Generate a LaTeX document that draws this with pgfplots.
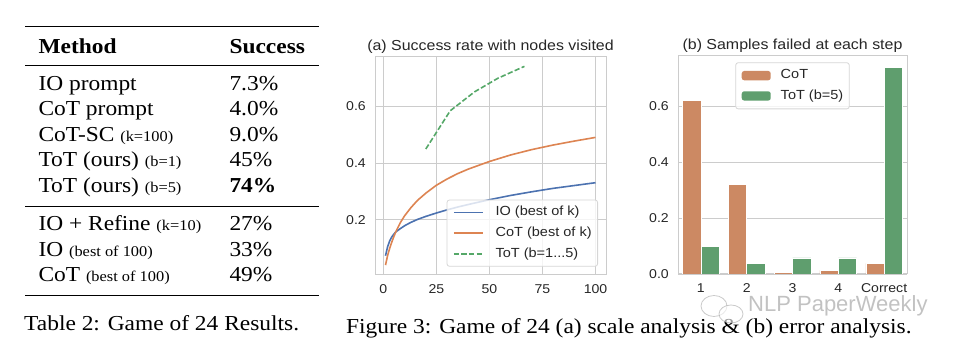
\documentclass[border=0pt]{standalone}
\usepackage{fontspec}
\setmainfont{Liberation Serif}[FakeStretch=1.1]
\newfontfamily\dv{Liberation Sans}[FakeStretch=1.1]
\newfontfamily\wm{Liberation Sans}
\usepackage{pgfplots}
\pgfplotsset{compat=1.18}
\definecolor{gridc}{HTML}{CCCCCC}
\definecolor{legc}{HTML}{D6D6D6}
\definecolor{tickc}{HTML}{262626}
\definecolor{iob}{HTML}{4C72B0}
\definecolor{cotl}{HTML}{DD8452}
\definecolor{totl}{HTML}{55A868}
\definecolor{cotb}{HTML}{CC8963}
\definecolor{totb}{HTML}{5F9E6E}
\newcommand\tf{\fontsize{21.3}{24}\selectfont}
\newcommand\ts{\fontsize{14.9}{17}\selectfont}
\pgfplotsset{
 sb/.style={
  scale only axis,
  axis line style={draw=gridc, line width=1pt},
  major grid style={draw=gridc, line width=0.8pt},
  major tick length=0pt,
  tick style={draw=none},
  tick label style={font=\dv\fontsize{12.8}{14}\selectfont, text=tickc, inner sep=0pt},
  xticklabel style={anchor=north, yshift=-9.8pt},
  yticklabel style={anchor=east, xshift=-9pt},
  /pgf/number format/assume math mode=true,
  every axis title/.style={at={(0.5,1)}, anchor=base, yshift=6.5pt, font=\dv\fontsize{14.5}{16}\selectfont, text=tickc, inner sep=0pt},
  legend cell align=left,
  legend style={font=\dv\fontsize{13.2}{15}\selectfont, text=tickc, draw=legc, line width=0.8pt, rounded corners=2.5pt, fill=white, fill opacity=0.8, draw opacity=1, text opacity=1, nodes={inner sep=0pt, text height=9.5pt, text depth=2.8pt}},
 },
 mypatch/.style={legend image code/.code={\path[##1, fill opacity=1] (0pt,-4.65pt) rectangle (29pt,4.65pt);}},
}
\begin{document}
\begin{tikzpicture}[x=1pt,y=1pt]
\path (0,0) rectangle (971,350);
% ---------------- Table ----------------
\draw[line width=1.6pt] (25,323.3) -- (319,323.3);
\draw[line width=1pt] (25,284.7) -- (319,284.7);
\draw[line width=1pt] (25,143.3) -- (319,143.3);
\draw[line width=1.6pt] (25,54.3) -- (319,54.3);
\begin{scope}[every node/.style={anchor=base west, inner sep=0pt, font=\tf}]
\node at (38.3,296.7) {\bfseries Method};
\node at (229.3,296.7) {\bfseries Success};
\node at (38.3,259.5) {IO prompt};       \node at (229.3,259.5) {7.3\%};
\node at (38.3,234)   {CoT prompt};      \node at (229.3,234)   {4.0\%};
\node at (38.3,208.5) {CoT-SC {\ts (k=100)}}; \node at (229.3,208.5) {9.0\%};
\node at (38.3,183)   {ToT (ours) {\ts (b=1)}}; \node at (229.3,183) {45\%};
\node at (38.3,157.5) {ToT (ours) {\ts (b=5)}}; \node at (229.3,157.5) {\bfseries 74\%};
\node at (38.3,119)   {IO + Refine {\ts (k=10)}}; \node at (229.3,119) {27\%};
\node at (38.3,93.5)  {IO {\ts (best of 100)}}; \node at (229.3,93.5) {33\%};
\node at (38.3,68)    {CoT {\ts (best of 100)}}; \node at (229.3,68) {49\%};
\node at (24,19.3) {Table 2: Game of 24 Results.};
\node at (346,16.7) {Figure 3: Game of 24 (a) scale analysis \& (b) error analysis.};
\end{scope}
% ---------------- (a) ----------------
\begin{axis}[sb, at={(375pt,75pt)}, anchor=south west, width=231pt, height=218pt,
 xmin=-3.95, xmax=104.95, ymin=0.005, ymax=0.775,
 xtick={0,25,50,75,100}, ytick={0.2,0.4,0.6}, grid=major,
 yticklabel style={/pgf/number format/.cd, fixed, fixed zerofill, precision=1},
 title={(a) Success rate with nodes visited},
 legend style={at={(1,0)}, anchor=south east, xshift=-8pt, yshift=8.3pt, inner xsep=6pt, inner ysep=6.2pt, row sep=8.5pt, column sep=12pt},
 legend image code/.code={\draw[#1] (0pt,0pt) -- (29pt,0pt);},
]
\addplot[iob, line width=1.6pt] coordinates {(1,0.073) (2,0.105) (3,0.126) (4,0.14) (5,0.15) (6,0.158) (8,0.169) (10,0.179) (13,0.191) (16,0.201) (20,0.212) (25,0.224) (30,0.235) (35,0.245) (40,0.254) (50,0.271) (60,0.286) (70,0.299) (80,0.311) (90,0.321) (100,0.331)};
\addlegendentry{IO (best of k)}
\addplot[cotl, line width=1.6pt] coordinates {(1,0.04) (2,0.074) (3,0.1) (4,0.122) (5,0.142) (6,0.16) (8,0.19) (10,0.214) (13,0.243) (16,0.268) (20,0.294) (25,0.322) (30,0.344) (35,0.363) (40,0.379) (50,0.406) (60,0.429) (70,0.448) (80,0.464) (90,0.478) (100,0.491)};
\addlegendentry{CoT (best of k)}
\addplot[totl, line width=1.6pt, dash pattern=on 5.3pt off 2.3pt] coordinates {(20,0.45) (31.5,0.585) (43,0.652) (54,0.70) (66.5,0.742)};
\addlegendentry{ToT (b=1...5)}
\end{axis}
% ---------------- (b) ----------------
\begin{axis}[sb, at={(678pt,76pt)}, anchor=south west, width=229pt, height=218pt,
 xmin=-0.5, xmax=4.5, ymin=0, ymax=0.7785,
 xtick={0,1,2,3,4}, xticklabels={1,2,3,4,Correct},
 ytick={0,0.2,0.4,0.6}, ymajorgrids,
 yticklabel style={/pgf/number format/.cd, fixed, fixed zerofill, precision=1},
 title={(b) Samples failed at each step},
 legend style={at={(0.5,1)}, anchor=north, yshift=-6.3pt, inner xsep=6pt, inner ysep=6.8pt, row sep=8pt, column sep=10pt},
]
\addplot[ybar, bar width=0.4, bar shift=0pt, fill=cotb, draw=white, line width=0.5pt, forget plot] coordinates {(-0.2,0.62) (0.8,0.32) (1.8,0.005) (2.8,0.013) (3.8,0.038)};
\addplot[ybar, bar width=0.4, bar shift=0pt, fill=totb, draw=white, line width=0.5pt, forget plot] coordinates {(0.2,0.098) (1.2,0.039) (2.2,0.058) (3.2,0.058) (4.2,0.739)};
\addlegendimage{mypatch, fill=cotb, draw=none}
\addlegendentry{CoT}
\addlegendimage{mypatch, fill=totb, draw=none}
\addlegendentry{ToT (b=5)}
\end{axis}
% watermark
\begin{scope}[opacity=0.6]
\draw[black!35, line width=0.8pt] (714,44) ellipse (13pt and 10.5pt);
\draw[black!35, line width=0.8pt, fill=white] (731,36) ellipse (12pt and 9pt);
\node[anchor=base west, inner sep=0pt, text=black!40, font=\wm\fontsize{22}{24}\selectfont] at (748,38.3) {NLP PaperWeekly};
\end{scope}
\end{tikzpicture}
\end{document}
